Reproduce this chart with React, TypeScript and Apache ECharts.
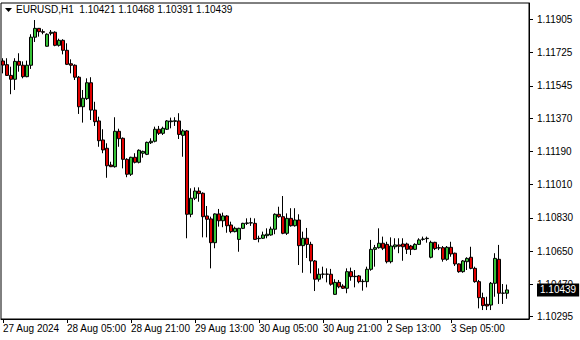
import React, { useEffect, useRef } from "react";
import * as echarts from "echarts";

const symbolName = "EURUSD,H1";

// trading sessions: [day, first hour, last hour]
const sessions: [string, number, number][] = [
  ["27 Aug", 13, 23],
  ["28 Aug", 0, 23],
  ["29 Aug", 0, 23],
  ["30 Aug", 0, 23],
  ["2 Sep", 0, 23],
  ["3 Sep", 0, 19],
];
const emptySlots = 5;

const xTickLabels: Record<string, string> = {
  "27 Aug 13:00": "27 Aug 2024",
  "28 Aug 05:00": "28 Aug 05:00",
  "28 Aug 21:00": "28 Aug 21:00",
  "29 Aug 13:00": "29 Aug 13:00",
  "30 Aug 05:00": "30 Aug 05:00",
  "30 Aug 21:00": "30 Aug 21:00",
  "2 Sep 13:00": "2 Sep 13:00",
  "3 Sep 05:00": "3 Sep 05:00",
};

const yTicks = [1.10295, 1.1047, 1.1065, 1.1083, 1.1101, 1.1119, 1.1137, 1.11545, 1.11725, 1.11905];

const opens = [
  1.1168, 1.1166, 1.11602, 1.11581, 1.11678, 1.11657, 1.11595, 1.11657, 1.11809, 1.11857,
  1.11839, 1.1176, 1.1183, 1.11836, 1.11765, 1.11792, 1.11738, 1.11665, 1.11657, 1.11592,
  1.11432, 1.11476, 1.11562, 1.11414, 1.11355, 1.11252, 1.11207, 1.11116, 1.11107, 1.11299,
  1.11261, 1.11147, 1.11066, 1.11158, 1.11131, 1.1118, 1.11174, 1.11237, 1.11245, 1.1131,
  1.11288, 1.1131, 1.11351, 1.11353, 1.11355, 1.11277, 1.11301, 1.10849, 1.10936, 1.10975,
  1.10963, 1.1084, 1.10824, 1.10695, 1.10851, 1.10814, 1.1084, 1.10791, 1.10755, 1.10713,
  1.10773, 1.108, 1.10802, 1.108, 1.10717, 1.10719, 1.10733, 1.10737, 1.10768, 1.10849,
  1.10836, 1.10746, 1.10827, 1.10787, 1.10818, 1.10679, 1.10719, 1.10686, 1.10596, 1.10497,
  1.10524, 1.10525, 1.10524, 1.10415, 1.1048, 1.1046, 1.10448, 1.10538, 1.10511, 1.10515,
  1.10484, 1.10484, 1.10551, 1.10659, 1.10668, 1.10692, 1.10686, 1.10592, 1.10673, 1.10683,
  1.10688, 1.10688, 1.10677, 1.10659, 1.10686, 1.10713, 1.10717, 1.10616, 1.10697, 1.10668,
  1.10668, 1.10605, 1.1067, 1.10638, 1.1058, 1.10538, 1.10592, 1.10616, 1.10556, 1.10484,
  1.10397, 1.10361, 1.10357, 1.10475, 1.10605, 1.10421, 1.10421,
];

const closes = [
  1.11658, 1.11602, 1.11581, 1.11678, 1.11657, 1.11595, 1.11657, 1.11809, 1.11857, 1.11839,
  1.11836, 1.11825, 1.11836, 1.11765, 1.11792, 1.11738, 1.11662, 1.11657, 1.11592, 1.11432,
  1.11478, 1.11562, 1.11414, 1.11351, 1.11248, 1.11198, 1.11112, 1.11107, 1.11299, 1.11259,
  1.11147, 1.11066, 1.11158, 1.11131, 1.11196, 1.1119, 1.11239, 1.11245, 1.1131, 1.11288,
  1.11315, 1.11355, 1.11355, 1.11356, 1.11282, 1.11301, 1.10849, 1.10936, 1.10975, 1.10961,
  1.10836, 1.10822, 1.10695, 1.10851, 1.10814, 1.1084, 1.10787, 1.10755, 1.10773, 1.10773,
  1.108, 1.10802, 1.10803, 1.10713, 1.10719, 1.10737, 1.10741, 1.10769, 1.10849, 1.10836,
  1.10746, 1.10827, 1.10787, 1.10818, 1.10679, 1.10719, 1.10686, 1.10596, 1.10497, 1.10524,
  1.10525, 1.10524, 1.1047, 1.1048, 1.10456, 1.10448, 1.10538, 1.10511, 1.10513, 1.10484,
  1.10486, 1.10551, 1.10659, 1.10668, 1.10692, 1.10665, 1.10592, 1.10677, 1.10683, 1.10676,
  1.10673, 1.10659, 1.10659, 1.10686, 1.1071, 1.10715, 1.10719, 1.10697, 1.10663, 1.10666,
  1.10605, 1.1067, 1.10634, 1.1058, 1.10538, 1.10596, 1.1061, 1.10556, 1.10484, 1.10397,
  1.10354, 1.10352, 1.10475, 1.1061, 1.10421, 1.10422, 1.10439,
];

const lows = [
  1.11613, 1.11599, 1.115, 1.11523, 1.11622, 1.11586, 1.11592, 1.11637, 1.11783, 1.11812,
  1.11825, 1.11758, 1.11819, 1.1176, 1.11758, 1.11716, 1.11658, 1.11613, 1.11577, 1.11393,
  1.11346, 1.11469, 1.1136, 1.11328, 1.11215, 1.1118, 1.11047, 1.11105, 1.11102, 1.11215,
  1.11098, 1.1105, 1.11057, 1.11125, 1.11125, 1.11156, 1.1117, 1.1123, 1.11239, 1.11279,
  1.11279, 1.11306, 1.11315, 1.11328, 1.11257, 1.11161, 1.10719, 1.10833, 1.10926, 1.10917,
  1.10724, 1.10724, 1.10556, 1.10665, 1.10782, 1.10779, 1.10749, 1.10746, 1.10751, 1.10646,
  1.10769, 1.10791, 1.10786, 1.1071, 1.10697, 1.10715, 1.10719, 1.10733, 1.10741, 1.1083,
  1.10741, 1.10737, 1.10782, 1.10782, 1.10574, 1.10532, 1.10612, 1.10529, 1.10433, 1.10484,
  1.10502, 1.1048, 1.10462, 1.10412, 1.10448, 1.10444, 1.10421, 1.10489, 1.10453, 1.10475,
  1.10435, 1.10453, 1.10543, 1.10565, 1.10663, 1.10655, 1.10583, 1.10583, 1.10659, 1.10638,
  1.10597, 1.10634, 1.10628, 1.10655, 1.10683, 1.10706, 1.10695, 1.1061, 1.10655, 1.10655,
  1.10592, 1.10597, 1.10619, 1.10569, 1.10532, 1.10532, 1.10547, 1.10551, 1.10478, 1.10339,
  1.1033, 1.1033, 1.1033, 1.10402, 1.10363, 1.10363, 1.10391,
];

const highs = [
  1.11695, 1.11695, 1.11649, 1.11695, 1.11722, 1.11678, 1.11682, 1.11825, 1.11902, 1.11859,
  1.11852, 1.1183, 1.11848, 1.11841, 1.11801, 1.11798, 1.11776, 1.11689, 1.11662, 1.11599,
  1.11523, 1.11586, 1.11592, 1.11459, 1.11378, 1.1131, 1.11234, 1.11134, 1.11375, 1.11313,
  1.11266, 1.11153, 1.11161, 1.1118, 1.11201, 1.11194, 1.11243, 1.11261, 1.11324, 1.11328,
  1.11324, 1.1136, 1.11373, 1.11375, 1.11397, 1.1131, 1.11306, 1.1099, 1.10995, 1.10995,
  1.10968, 1.10894, 1.10836, 1.10854, 1.10878, 1.10858, 1.10845, 1.10809, 1.10782, 1.10776,
  1.10803, 1.10827, 1.1083, 1.10827, 1.10733, 1.10755, 1.10773, 1.10782, 1.10854, 1.1089,
  1.10948, 1.10854, 1.10882, 1.10882, 1.10849, 1.10755, 1.10775, 1.107, 1.10601, 1.10556,
  1.10565, 1.10556, 1.10553, 1.10497, 1.10493, 1.1047, 1.10556, 1.1056, 1.10547, 1.1052,
  1.10497, 1.10565, 1.1071, 1.10683, 1.10773, 1.10728, 1.107, 1.10724, 1.10719, 1.10719,
  1.10719, 1.10695, 1.10683, 1.10692, 1.10719, 1.10728, 1.10728, 1.10706, 1.107, 1.10686,
  1.10677, 1.10677, 1.107, 1.10641, 1.10583, 1.10601, 1.10616, 1.10673, 1.10565, 1.10493,
  1.10424, 1.10402, 1.10482, 1.10638, 1.10683, 1.10471, 1.10468,
];

const FONT = "'Liberation Sans', Arial, sans-serif";
const Y_MIN = 1.102814;
const Y_MAX = 1.119944;

function buildCategories(): string[] {
  const out: string[] = [];
  for (const [day, h0, h1] of sessions) {
    for (let h = h0; h <= h1; h++) out.push(`${day} ${String(h).padStart(2, "0")}:00`);
  }
  for (let i = 0; i < emptySlots; i++) out.push(" ".repeat(i + 1));
  return out;
}

export default function App() {
  const ref = useRef<HTMLDivElement>(null);
  useEffect(() => {
    if (!ref.current) return;
    const chart = echarts.init(ref.current, undefined, { renderer: "svg" });
    const categories = buildCategories();
    const candles = opens.map((o, i) => [o, closes[i], lows[i], highs[i]]);
    const last = opens.length - 1;
    const lastClose = closes[last];
    const title = `${symbolName}  ${opens[last].toFixed(5)} ${highs[last].toFixed(5)} ${lows[last].toFixed(5)} ${lastClose.toFixed(5)}`;
    const showTick = (_i: number, v: string) => Object.prototype.hasOwnProperty.call(xTickLabels, v);
    chart.setOption({
      animation: false,
      backgroundColor: "#fff",
      title: {
        text: title,
        left: 16,
        top: 4,
        padding: 0,
        textStyle: { fontSize: 10, fontWeight: "normal", color: "#000", fontFamily: FONT },
      },
      grid: {
        left: 1,
        right: 51,
        top: 3,
        bottom: 21,
        show: true,
        borderColor: "#000",
        borderWidth: 1,
        backgroundColor: "#fff",
      },
      xAxis: {
        type: "category",
        data: categories,
        boundaryGap: true,
        axisLine: { show: true, lineStyle: { color: "#000", width: 1 } },
        axisTick: { show: true, interval: showTick, alignWithLabel: true, length: 4, lineStyle: { color: "#000" } },
        axisLabel: {
          interval: showTick,
          formatter: (v: string) => xTickLabels[v] ?? "",
          align: "left",
          margin: 4,
          color: "#000",
          fontSize: 10,
          fontFamily: FONT,
        },
        splitLine: { show: false },
      },
      yAxis: {
        type: "value",
        position: "right",
        min: Y_MIN,
        max: Y_MAX,
        axisLine: { show: true, lineStyle: { color: "#000", width: 1 } },
        axisTick: { show: true, length: 4, customValues: yTicks, lineStyle: { color: "#000" } },
        axisLabel: {
          customValues: yTicks,
          formatter: (v: number) => v.toFixed(5),
          margin: 8,
          color: "#000",
          fontSize: 10,
          fontFamily: FONT,
        },
        splitLine: { show: false },
      },
      series: [
        {
          type: "candlestick",
          data: candles,
          barWidth: 3,
          itemStyle: {
            color: "#36c236",
            color0: "#e00000",
            borderColor: "#000",
            borderColor0: "#000",
            borderColorDoji: "#000",
            borderWidth: 1,
          },
        },
      ],
    });
    const priceY = chart.convertToPixel({ yAxisIndex: 0 }, lastClose) as number;
    const gridRight = (chart.convertToPixel({ xAxisIndex: 0 }, categories.length - 1) as number) + 2;
    chart.setOption({
      graphic: [
        { type: "polygon", shape: { points: [[5, 8], [12, 8], [8.5, 12]] }, style: { fill: "#000" } },
        {
          type: "text",
          z: 100,
          x: gridRight + 8,
          y: priceY,
          style: {
            text: lastClose.toFixed(5),
            fill: "#fff",
            backgroundColor: "#000",
            padding: [2, 3, 1, 3],
            fontSize: 10,
            fontFamily: FONT,
            verticalAlign: "middle",
            align: "left",
          },
        },
      ],
    });
    return () => chart.dispose();
  }, []);
  return <div ref={ref} style={{ position: "fixed", left: 0, top: 0, width: 580, height: 340 }} />;
}
